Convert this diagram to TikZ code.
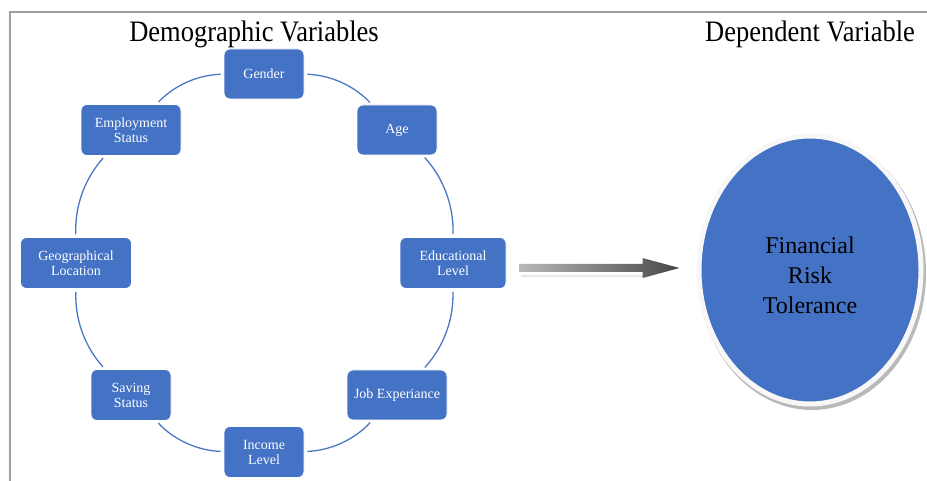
\documentclass[tikz,border=0pt]{standalone}
\usepackage{fontspec}
\setmainfont{Liberation Serif}
\usetikzlibrary{shapes.geometric,calc}
\definecolor{boxblue}{RGB}{68,114,196}
\definecolor{ringblue}{RGB}{74,120,196}
\tikzset{
  vbox/.style={draw=white, line width=0.8pt, fill=boxblue, rounded corners=6pt,
    text=white, align=center, inner sep=2pt,
    font=\fontsize{14}{15}\selectfont},
  ring/.style={draw=ringblue, line width=1.3pt, bend left=22.5, looseness=0.9,
    shorten <=3pt, shorten >=3pt},
  title/.style={font=\fontsize{26.5}{28}\selectfont, inner sep=0pt}
}
\begin{document}
\begin{tikzpicture}[x=1pt,y=1pt]
\useasboundingbox (0,0) rectangle (927,481);
% frame
\draw[gray!75, line width=1.6pt] (10,0) -- (10,469) -- (930,469);
% titles
\node[title] (t1) at (254,447) {\scalebox{1}[1.12]{Demographic Variables}};
\node[title] (t2) at (810,447) {\scalebox{1}[1.12]{Dependent Variable}};
% boxes
\node[vbox, minimum width=80, minimum height=50] (gen) at (264,407) {Gender};
\node[vbox, minimum width=80, minimum height=50] (age) at (397,351) {Age};
\node[vbox, minimum width=106, minimum height=51] (edu) at (453,218) {Educational\\Level};
\node[vbox, minimum width=100, minimum height=50] (job) at (397,86) {Job Experiance};
\node[vbox, minimum width=80, minimum height=51] (inc) at (264,29) {Income\\Level};
\node[vbox, minimum width=80, minimum height=51] (sav) at (131,86) {Saving\\Status};
\node[vbox, minimum width=111, minimum height=51] (geo) at (76,218) {Geographical\\Location};
\node[vbox, minimum width=100, minimum height=51] (emp) at (131,351) {Employment\\Status};
% ring
\draw[ring] (gen) to (age);
\draw[ring] (age) to (edu);
\draw[ring] (edu) to (job);
\draw[ring] (job) to (inc);
\draw[ring] (inc) to (sav);
\draw[ring] (sav) to (geo);
\draw[ring] (geo) to (emp);
\draw[ring] (emp) to (gen);
% dependent variable ellipse
\fill[gray!55] (812,208) ellipse [x radius=114, y radius=137];
\node[ellipse, fill=boxblue, draw=white!94!gray, line width=5pt,
  minimum width=222, minimum height=268, inner sep=0pt] (fin) at (810,211) {};
\node[align=center, font=\fontsize{24}{30}\selectfont, inner sep=0pt] (fint)
  at ($(fin.center)+(0,-5)$) {Financial\\Risk\\Tolerance};
% arrow
\coordinate (as) at ($(edu.east)+(13,-5)$);
\coordinate (ae) at ($(fin.west)+(-17,2)$);
\draw[gray!18, line width=1.5pt] ($(as)+(2,-8)$) -- ($(ae)+(-30,-8)$);
\shade[left color=black!28, right color=black!72]
  ($(as)+(0,4)$) -- ($(ae)+(-37,4)$) -- ($(ae)+(-37,10)$) -- (ae)
  -- ($(ae)+(-37,-10)$) -- ($(ae)+(-37,-4)$) -- ($(as)+(0,-4)$) -- cycle;
\end{tikzpicture}
\end{document}
